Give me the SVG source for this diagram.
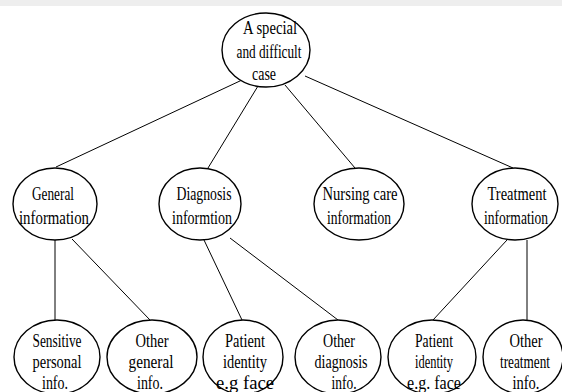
<svg xmlns="http://www.w3.org/2000/svg" width="562" height="392" viewBox="0 0 562 392">
<style>
  .n ellipse { fill: #ffffff; stroke: #000000; stroke-width: 1.4; }
  .n text { font-family: "Liberation Serif", "Times New Roman", serif; font-size: 18px; fill: #000000; text-anchor: middle; }
  #connectors line { stroke: #000000; stroke-width: 1; }
</style>
<rect x="0" y="0" width="562" height="392" fill="#ffffff"/>
<rect x="0" y="0" width="562" height="6" fill="#eeeeee"/>
<g id="connectors">
  <line x1="242" y1="80" x2="56" y2="167"/>
  <line x1="258" y1="86" x2="208" y2="168"/>
  <line x1="285" y1="85" x2="355" y2="168"/>
  <line x1="305" y1="76" x2="513" y2="168"/>
  <line x1="55" y1="240" x2="55" y2="320"/>
  <line x1="72" y1="239" x2="150" y2="320"/>
  <line x1="204" y1="240" x2="242" y2="320"/>
  <line x1="230" y1="238" x2="338" y2="320"/>
  <line x1="507" y1="240" x2="433" y2="320"/>
  <line x1="527" y1="240" x2="527" y2="320"/>
</g>
<g id="root" class="n">
  <ellipse cx="266" cy="50" rx="44" ry="37"/>
  <text x="270" y="34" textLength="54" lengthAdjust="spacingAndGlyphs">A special</text>
  <text x="269" y="58" textLength="65" lengthAdjust="spacingAndGlyphs">and difficult</text>
  <text x="264" y="80" textLength="24" lengthAdjust="spacingAndGlyphs">case</text>
</g>
<g id="general" class="n">
  <ellipse cx="55" cy="204" rx="42" ry="36"/>
  <text x="53" y="200" textLength="42" lengthAdjust="spacingAndGlyphs">General</text>
  <text x="54" y="224" textLength="70" lengthAdjust="spacingAndGlyphs">information</text>
</g>
<g id="diagnosis" class="n">
  <ellipse cx="200" cy="204" rx="41" ry="36"/>
  <text x="204" y="200" textLength="55" lengthAdjust="spacingAndGlyphs">Diagnosis</text>
  <text x="202" y="224" textLength="60" lengthAdjust="spacingAndGlyphs">informtion</text>
</g>
<g id="nursing" class="n">
  <ellipse cx="359" cy="204" rx="45" ry="36"/>
  <text x="360" y="200" textLength="75" lengthAdjust="spacingAndGlyphs">Nursing care</text>
  <text x="359" y="224" textLength="64" lengthAdjust="spacingAndGlyphs">information</text>
</g>
<g id="treatment" class="n">
  <ellipse cx="515" cy="204" rx="43" ry="36"/>
  <text x="517" y="200" textLength="59" lengthAdjust="spacingAndGlyphs">Treatment</text>
  <text x="516" y="224" textLength="64" lengthAdjust="spacingAndGlyphs">information</text>
</g>
<g id="sensitive" class="n">
  <ellipse cx="57" cy="357" rx="43" ry="37"/>
  <text x="57" y="347" textLength="49" lengthAdjust="spacingAndGlyphs">Sensitive</text>
  <text x="57" y="368" textLength="49" lengthAdjust="spacingAndGlyphs">personal</text>
  <text x="55" y="389" textLength="26" lengthAdjust="spacingAndGlyphs">info.</text>
</g>
<g id="othergeneral" class="n">
  <ellipse cx="152" cy="357" rx="45" ry="37"/>
  <text x="152" y="347" textLength="33" lengthAdjust="spacingAndGlyphs">Other</text>
  <text x="151" y="368" textLength="45" lengthAdjust="spacingAndGlyphs">general</text>
  <text x="150" y="389" textLength="26" lengthAdjust="spacingAndGlyphs">info.</text>
</g>
<g id="patient1" class="n">
  <ellipse cx="243" cy="357" rx="40" ry="37"/>
  <text x="245" y="347" textLength="40" lengthAdjust="spacingAndGlyphs">Patient</text>
  <text x="245" y="368" textLength="44" lengthAdjust="spacingAndGlyphs">identity</text>
  <text x="245" y="389" textLength="58" lengthAdjust="spacingAndGlyphs">e.g face</text>
</g>
<g id="otherdiagnosis" class="n">
  <ellipse cx="338" cy="357" rx="43" ry="37"/>
  <text x="339" y="347" textLength="32" lengthAdjust="spacingAndGlyphs">Other</text>
  <text x="341" y="368" textLength="53" lengthAdjust="spacingAndGlyphs">diagnosis</text>
  <text x="344" y="389" textLength="25" lengthAdjust="spacingAndGlyphs">info.</text>
</g>
<g id="patient2" class="n">
  <ellipse cx="432" cy="357" rx="44" ry="37"/>
  <text x="434" y="347" textLength="38" lengthAdjust="spacingAndGlyphs">Patient</text>
  <text x="434" y="368" textLength="38" lengthAdjust="spacingAndGlyphs">identity</text>
  <text x="434" y="389" textLength="54" lengthAdjust="spacingAndGlyphs">e.g. face</text>
</g>
<g id="othertreatment" class="n">
  <ellipse cx="523" cy="357" rx="40" ry="37"/>
  <text x="526" y="347" textLength="33" lengthAdjust="spacingAndGlyphs">Other</text>
  <text x="525" y="368" textLength="50" lengthAdjust="spacingAndGlyphs">treatment</text>
  <text x="526" y="389" textLength="27" lengthAdjust="spacingAndGlyphs">info.</text>
</g>
</svg>
